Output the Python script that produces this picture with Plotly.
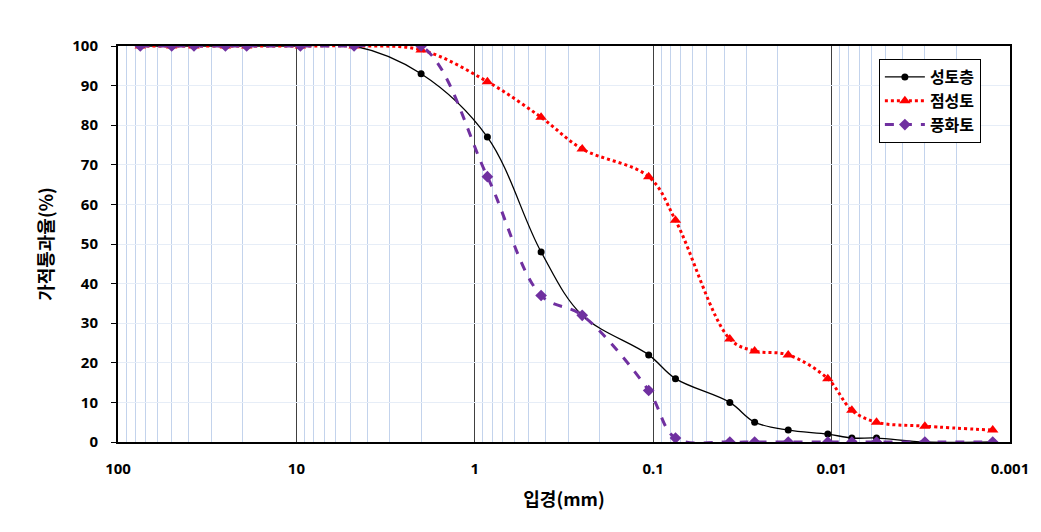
import plotly.graph_objects as go

sizes = [75, 50, 37.5, 25, 19, 9.5, 4.75, 2.0, 0.85, 0.425, 0.25, 0.106, 0.075,
         0.0372, 0.027, 0.0175, 0.0105, 0.0077, 0.0056, 0.0030, 0.00125]
fill_layer = [100, 100, 100, 100, 100, 100, 100, 93, 77, 48, 32, 22, 16, 10, 5, 3, 2, 1, 1, 0, 0]
clay = [100, 100, 100, 100, 100, 100, 100, 99, 91, 82, 74, 67, 56, 26, 23, 22, 16, 8, 5, 4, 3]
weathered = [100, 100, 100, 100, 100, 100, 100, 100, 67, 37, 32, 13, 1, 0, 0, 0, 0, 0, 0, 0, 0]

names = ["성토층", "점성토", "풍화토"]
x_ticks = [100, 10, 1, 0.1, 0.01, 0.001]
x_tick_text = ["100", "10", "1", "0.1", "0.01", "0.001"]

FONT = "Noto Sans CJK KR"
TICKFONT = "Noto Sans"

fig = go.Figure()
fig.add_trace(go.Scatter(
    x=sizes, y=fill_layer, name=names[0], mode="lines+markers",
    line=dict(color="black", width=1.3, shape="spline", smoothing=1),
    marker=dict(symbol="circle", size=7, color="black"),
))
fig.add_trace(go.Scatter(
    x=sizes, y=clay, name=names[1], mode="lines+markers",
    line=dict(color="#ff0000", width=3, dash="dot", shape="spline", smoothing=1),
    marker=dict(symbol="triangle-up", size=10, color="#ff0000"),
))
fig.add_trace(go.Scatter(
    x=sizes, y=weathered, name=names[2], mode="lines+markers",
    line=dict(color="#7030a0", width=3, dash="dash", shape="spline", smoothing=1),
    marker=dict(symbol="diamond", size=9, color="#7030a0"),
))

fig.update_layout(
    width=1041, height=532,
    margin=dict(l=118, r=31, t=46, b=90),
    paper_bgcolor="white", plot_bgcolor="white",
    font=dict(family=FONT, color="black", size=14),
    showlegend=True,
    legend=dict(
        x=0.853, y=0.967, xanchor="left", yanchor="top",
        bordercolor="black", borderwidth=1, bgcolor="white",
        font=dict(family=FONT, size=16, color="black", weight="bold"),
        tracegroupgap=0, itemwidth=40,
    ),
)

fig.update_xaxes(
    type="log", range=[2, -3],
    tickvals=x_ticks, ticktext=x_tick_text,
    tickfont=dict(family=TICKFONT, size=15, weight="bold"),
    ticklabelstandoff=12,
    showgrid=True, gridcolor="#404040", gridwidth=1,
    minor=dict(dtick="D1", showgrid=True, gridcolor="#c3d3ec", gridwidth=1, ticks=""),
    showline=True, linecolor="black", linewidth=2, mirror=True,
    ticks="", zeroline=False,
    title=dict(text="입경(mm)", font=dict(family=FONT, size=18, weight="bold"), standoff=16),
)
fig.update_yaxes(
    range=[0, 100], dtick=10,
    tickfont=dict(family=TICKFONT, size=15, weight="bold"),
    ticklabelstandoff=10,
    showgrid=True, gridcolor="#e6edf7", gridwidth=1,
    showline=True, linecolor="black", linewidth=2, mirror=True,
    ticks="outside", ticklen=5, tickcolor="black",
    zeroline=False,
    title=dict(text="가적통과율(%)", font=dict(family=FONT, size=18, weight="bold"), standoff=14),
)

fig.write_html("out.html")
